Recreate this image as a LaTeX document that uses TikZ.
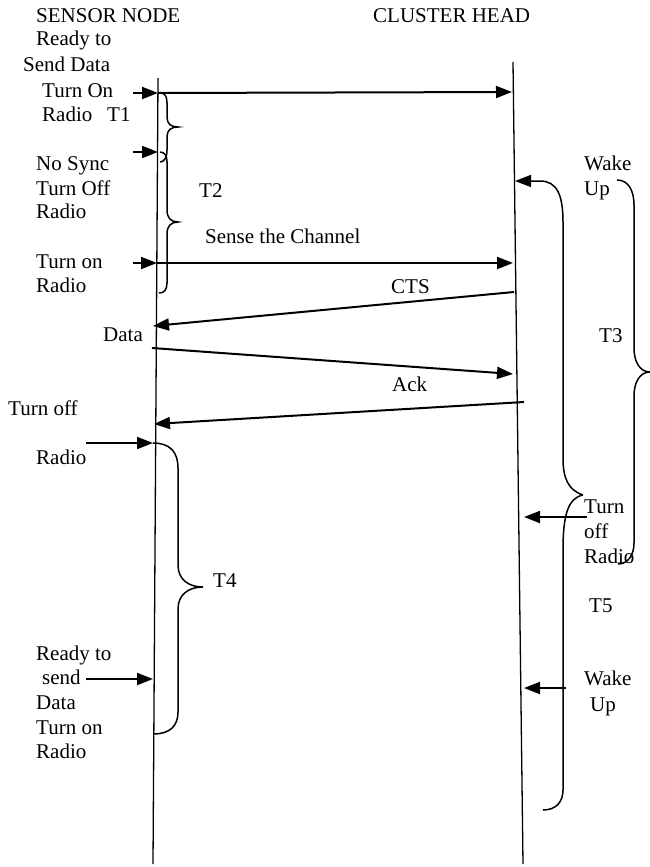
\documentclass[tikz,border=0pt]{standalone}
\usepackage{fontspec}
\setmainfont{Liberation Serif}
\usetikzlibrary{positioning,arrows.meta}
\tikzset{
  lane/.style={line width=1.3pt},
  msg/.style={-{Triangle[length=16pt,width=12pt]},line width=2pt},
  hookmsg/.style={-{Triangle[length=16pt,width=12pt]},line width=1.5pt},
  brc/.style={line width=1.5pt},
  lbl/.style={anchor=base west,inner sep=0pt,font=\fontsize{21}{24.5}\selectfont}
}

\begin{document}
\begin{tikzpicture}[x=1pt,y=-1pt]
  \useasboundingbox (0,0) rectangle (650,867);
  % lifelines
  \coordinate (sTop) at (158,78);
  \coordinate (sBot) at (153,864);
  \coordinate (cTop) at (513,62);
  \coordinate (cBot) at (523,864);
  \draw[lane] (sTop) -- (sBot);
  \draw[lane] (cTop) -- (cBot);
  % headings
  \node[lbl] (sensor) at (36,23) {SENSOR NODE};
  \node[lbl] (cluster) at (373,23) {CLUSTER HEAD};
  % sensor side texts
  \node[lbl] (ready1) at (36,46) {Ready to};
  \node[lbl] (send1) at (23,71) {Send Data};
  \node[lbl] (on1) at (42,97) {Turn On};
  \node[lbl] (radio1) at (42,121) {Radio};
  \node[lbl] (tone) at (107,121) {T1};
  \node[lbl] (nosync) at (36,170) {No Sync};
  \node[lbl] (off1) at (36,195) {Turn Off};
  \node[lbl] (radio2) at (36,218) {Radio};
  \node[lbl] (ttwo) at (199,197) {T2};
  \node[lbl] (sense) at (205,243) {Sense the Channel};
  \node[lbl] (on2) at (36,268) {Turn on};
  \node[lbl] (radio3) at (36,292) {Radio};
  \node[lbl] (cts) at (391,293) {CTS};
  \node[lbl] (data) at (103,341) {Data};
  \node[lbl] (ack) at (392,391) {Ack};
  \node[lbl] (off2) at (8,415) {Turn off};
  \node[lbl] (radio4) at (36,464) {Radio};
  \node[lbl] (tfour) at (213,587) {T4};
  \node[lbl] (ready2) at (36,660) {Ready to};
  \node[lbl] (send2) at (42,684) {send};
  \node[lbl] (data2) at (36,709) {Data};
  \node[lbl] (on3) at (36,734) {Turn on};
  \node[lbl] (radio5) at (36,758) {Radio};
  % cluster head side texts
  \node[lbl] (wake1) at (584,170) {Wake};
  \node[lbl] (up1) at (584,195) {Up};
  \node[lbl] (tthree) at (599,342) {T3};
  \node[lbl] (turn3) at (584,513) {Turn};
  \node[lbl] (off3) at (584,538) {off};
  \node[lbl] (radio6) at (584,563) {Radio};
  \node[lbl] (tfive) at (589,612) {T5};
  \node[lbl] (wake2) at (584,685) {Wake};
  \node[lbl] (up2) at (590,711) {Up};
  % message points
  \coordinate (s1) at (158,93);
  \coordinate (c1) at (512,92);
  \coordinate (s2) at (158,152);
  \coordinate (s3) at (157,263);
  \coordinate (c3) at (513,263);
  \coordinate (c4) at (514,292);
  \coordinate (s4) at (153,326);
  \coordinate (s5) at (152,348);
  \coordinate (c5) at (513,374);
  \coordinate (c6) at (524,402);
  \coordinate (s6) at (154,424);
  \coordinate (s7) at (153,443);
  \coordinate (s8) at (153,679);
  \coordinate (c9) at (515,181);
  \coordinate (c10) at (524,517);
  \coordinate (c11) at (524,688);
  \coordinate (a1) at (133,93);
  \coordinate (a2) at (133,152);
  \coordinate (a3) at (133,263);
  \coordinate (a7) at (86,443);
  \coordinate (a8) at (86,679);
  \coordinate (a10) at (587,517);
  \coordinate (a11) at (566,688);
  \coordinate (tfivetip) at (583,495);
  % messages
  \draw[msg] (a1) -- (s1);
  \draw[msg] (s1) -- (c1);
  \draw[msg] (a2) -- (s2);
  \draw[msg] (a3) -- (s3);
  \draw[msg] (s3) -- (c3);
  \draw[msg] (c4) -- (s4);
  \draw[msg] (s5) -- (c5);
  \draw[msg] (c6) -- (s6);
  \draw[msg] (a7) -- (s7);
  \draw[msg] (a8) -- (s8);
  \draw[msg] (a10) -- (c10);
  \draw[msg] (a11) -- (c11);
  \draw[hookmsg] (tfivetip) .. controls (568,490) and (563,478) .. (563,458)
    -- (563,222) .. controls (563,195) and (557,181) .. (540,181) -- (c9);
  % braces
  \draw[brc] (160,93) .. controls (165,93) and (167,96) .. (167,103) -- (167,117)
    .. controls (167,124) and (171,127) .. (178,127)
    .. controls (171,127) and (167,130) .. (167,137)
    -- (167,150) .. controls (167,158) and (164,162) .. (160,162);
  \draw[brc] (160,152) .. controls (165,152) and (167,156) .. (167,162) -- (167,210)
    .. controls (167,218) and (171,222) .. (178,222)
    .. controls (171,222) and (167,226) .. (167,234)
    -- (167,283) .. controls (167,290) and (164,293) .. (159,293);
  \draw[brc] (153,443) .. controls (170,443) and (178,452) .. (178,468) -- (178,565)
    .. controls (178,579) and (188,587) .. (203,587)
    .. controls (188,587) and (178,595) .. (178,609)
    -- (178,712) .. controls (178,726) and (170,734) .. (153,734);
  \draw[brc] (617,180) .. controls (628,180) and (634,190) .. (634,205) -- (634,348)
    .. controls (634,362) and (640,372) .. (650,372)
    .. controls (640,372) and (634,382) .. (634,396)
    -- (634,543) .. controls (634,555) and (628,564) .. (618,564);
  \draw[brc] (tfivetip) .. controls (568,498) and (563,515) .. (563,550)
    -- (563,790) .. controls (563,802) and (556,810) .. (543,810);
\end{tikzpicture}
\end{document}
